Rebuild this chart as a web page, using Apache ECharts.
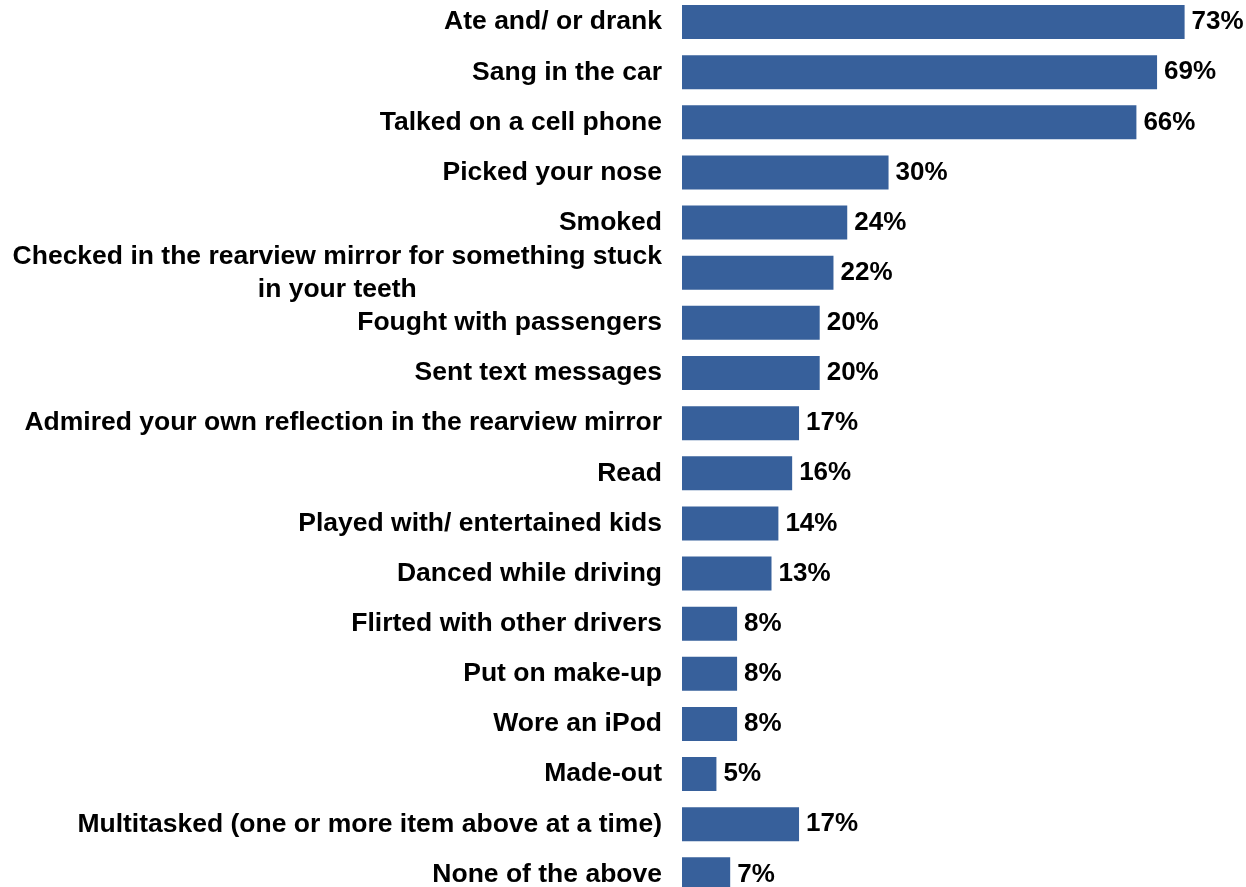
<!DOCTYPE html>
<html>
<head>
<meta charset="utf-8">
<script src="https://cdn.jsdelivr.net/npm/echarts@6/dist/echarts.min.js"></script>
<style>
  html, body { margin: 0; padding: 0; background: #ffffff; }
  #chart { width: 1246px; height: 887px; }
</style>
</head>
<body>
<div id="chart"></div>
<script>
// Things people admit doing while driving (share of respondents, %)
const categories = [
  'Ate and/ or drank',
  'Sang in the car',
  'Talked on a cell phone',
  'Picked your nose',
  'Smoked',
  'Checked in the rearview mirror for something stuck\nin your teeth',
  'Fought with passengers',
  'Sent text messages',
  'Admired your own reflection in the rearview mirror',
  'Read',
  'Played with/ entertained kids',
  'Danced while driving',
  'Flirted with other drivers',
  'Put on make-up',
  'Wore an iPod',
  'Made-out',
  'Multitasked (one or more item above at a time)',
  'None of the above'
];
const percentages = [73, 69, 66, 30, 24, 22, 20, 20, 17, 16, 14, 13, 8, 8, 8, 5, 17, 7];

const FONT = '"Liberation Sans", Arial, sans-serif';
const BAR_COLOR = '#37609B';

const chart = echarts.init(document.getElementById('chart'), null, { renderer: 'canvas' });

chart.setOption({
  backgroundColor: '#ffffff',
  animation: false,
  grid: {
    left: 682,
    top: -3,
    width: 550.8,
    height: 902.4,
    containLabel: false,
    outerBoundsMode: 'none'
  },
  xAxis: {
    type: 'value',
    min: 0,
    max: 80,
    show: false
  },
  yAxis: {
    type: 'category',
    inverse: true,
    data: categories,
    axisLine: { show: false },
    axisTick: { show: false },
    splitLine: { show: false },
    axisLabel: {
      margin: 20,
      color: '#000000',
      fontFamily: FONT,
      fontWeight: 'bold',
      fontSize: 26.5,
      formatter: function (value) {
        return '{c|' + value + '}';
      },
      rich: {
        c: {
          align: 'center',
          color: '#000000',
          fontFamily: FONT,
          fontWeight: 'bold',
          fontSize: 26.5,
          lineHeight: 33
        }
      }
    }
  },
  series: [{
    type: 'bar',
    data: percentages,
    barWidth: 34,
    itemStyle: { color: BAR_COLOR },
    label: {
      show: true,
      position: 'right',
      distance: 7,
      formatter: '{c}%',
      color: '#000000',
      fontFamily: FONT,
      fontWeight: 'bold',
      fontSize: 26
    }
  }]
});
</script>
</body>
</html>
